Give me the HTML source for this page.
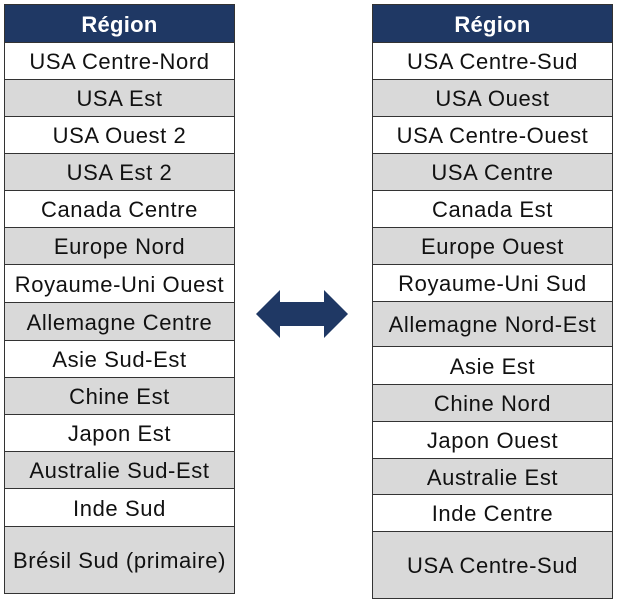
<!DOCTYPE html>
<html><head><meta charset="utf-8"><style>
body{margin:0;width:617px;height:601px;background:#fff;position:relative;overflow:hidden;font-family:"Liberation Sans",sans-serif;}
.c{position:absolute;box-sizing:border-box;border:1.5px solid #333;display:flex;align-items:center;justify-content:center;font-size:22px;letter-spacing:0.6px;color:#111;padding-top:2px;white-space:nowrap;}
.h{background:#1f3864;color:#fff;font-weight:bold;letter-spacing:0.3px;}
.g{background:#d9d9d9;}
.w{background:#fff;}
</style></head><body>
<div class="c h" style="left:4px;top:4px;width:231px;height:39px">Région</div>
<div class="c w" style="left:4px;top:42px;width:231px;height:38px">USA Centre-Nord</div>
<div class="c g" style="left:4px;top:79px;width:231px;height:38px">USA Est</div>
<div class="c w" style="left:4px;top:116px;width:231px;height:38px">USA Ouest 2</div>
<div class="c g" style="left:4px;top:153px;width:231px;height:38px">USA Est 2</div>
<div class="c w" style="left:4px;top:190px;width:231px;height:38px">Canada Centre</div>
<div class="c g" style="left:4px;top:227px;width:231px;height:38px">Europe Nord</div>
<div class="c w" style="left:4px;top:264px;width:231px;height:39px">Royaume-Uni Ouest</div>
<div class="c g" style="left:4px;top:302px;width:231px;height:39px">Allemagne Centre</div>
<div class="c w" style="left:4px;top:340px;width:231px;height:38px">Asie Sud-Est</div>
<div class="c g" style="left:4px;top:377px;width:231px;height:38px">Chine Est</div>
<div class="c w" style="left:4px;top:414px;width:231px;height:38px">Japon Est</div>
<div class="c g" style="left:4px;top:451px;width:231px;height:38px">Australie Sud-Est</div>
<div class="c w" style="left:4px;top:488px;width:231px;height:39px">Inde Sud</div>
<div class="c g" style="left:4px;top:526px;width:231px;height:68px">Brésil Sud (primaire)</div>

<div class="c h" style="left:372px;top:4px;width:241px;height:39px">Région</div>
<div class="c w" style="left:372px;top:42px;width:241px;height:38px">USA Centre-Sud</div>
<div class="c g" style="left:372px;top:79px;width:241px;height:38px">USA Ouest</div>
<div class="c w" style="left:372px;top:116px;width:241px;height:38px">USA Centre-Ouest</div>
<div class="c g" style="left:372px;top:153px;width:241px;height:38px">USA Centre</div>
<div class="c w" style="left:372px;top:190px;width:241px;height:38px">Canada Est</div>
<div class="c g" style="left:372px;top:227px;width:241px;height:38px">Europe Ouest</div>
<div class="c w" style="left:372px;top:264px;width:241px;height:38px">Royaume-Uni Sud</div>
<div class="c g" style="left:372px;top:301px;width:241px;height:46px">Allemagne Nord-Est</div>
<div class="c w" style="left:372px;top:346px;width:241px;height:39px">Asie Est</div>
<div class="c g" style="left:372px;top:384px;width:241px;height:38px">Chine Nord</div>
<div class="c w" style="left:372px;top:421px;width:241px;height:38px">Japon Ouest</div>
<div class="c g" style="left:372px;top:458px;width:241px;height:37px">Australie Est</div>
<div class="c w" style="left:372px;top:494px;width:241px;height:38px">Inde Centre</div>
<div class="c g" style="left:372px;top:531px;width:241px;height:68px">USA Centre-Sud</div>

<svg style="position:absolute;left:0;top:0" width="617" height="601">
<polygon points="256,314 280,290 280,302 324,302 324,290 348,314 324,338 324,326 280,326 280,338" fill="#1f3864"/>
</svg>
</body></html>
